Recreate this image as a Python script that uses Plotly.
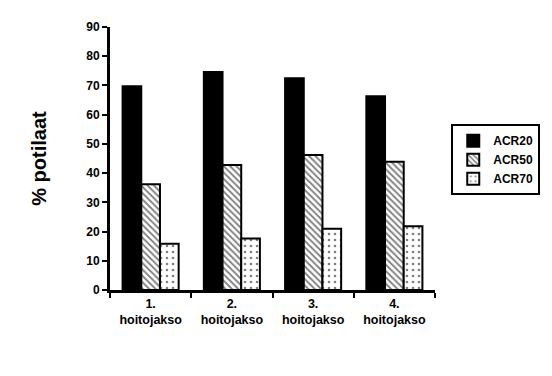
import plotly.graph_objects as go

categories = ["1.<br>hoitojakso", "2.<br>hoitojakso", "3.<br>hoitojakso", "4.<br>hoitojakso"]
acr20 = [69.7, 74.6, 72.5, 66.3]
acr50 = [36.2, 42.8, 46.2, 43.9]
acr70 = [15.8, 17.6, 21.0, 21.8]
y_ticks = [0, 10, 20, 30, 40, 50, 60, 70, 80, 90]

FONT = "Arial, Liberation Sans, sans-serif"

fig = go.Figure()
fig.add_bar(name="ACR20", x=categories, y=acr20,
            marker=dict(color="black", line=dict(color="black", width=2)))
fig.add_bar(name="ACR50", x=categories, y=acr50,
            marker=dict(color="white", line=dict(color="black", width=2),
                        pattern=dict(shape="\\", fgcolor="black", bgcolor="white",
                                     size=4.5, solidity=0.4)))
fig.add_bar(name="ACR70", x=categories, y=acr70,
            marker=dict(color="white", line=dict(color="black", width=2),
                        pattern=dict(shape=".", fgcolor="black", bgcolor="white",
                                     size=6, solidity=0.15)))

fig.update_layout(
    width=552, height=376,
    margin=dict(l=110, r=110, t=27, b=86),
    paper_bgcolor="white", plot_bgcolor="white",
    barmode="group", bargap=0.31, bargroupgap=0,
    font=dict(family=FONT, size=12, color="black"),
    showlegend=True,
    legend=dict(x=1.05, y=0.63, xanchor="left", yanchor="top",
                bordercolor="black", borderwidth=2,
                font=dict(family=FONT, size=12, color="black", weight="bold"),
                itemwidth=30, tracegroupgap=4),
    xaxis=dict(showline=True, linecolor="black", linewidth=3,
               ticks="outside", tickson="boundaries", ticklen=5, tickwidth=2,
               tickcolor="black", showgrid=False,
               tickfont=dict(family=FONT, size=12.5, color="black", weight="bold")),
    yaxis=dict(range=[0, 90], tickvals=y_ticks, showline=True, linecolor="black",
               linewidth=3, ticks="outside", ticklen=5, tickwidth=2, tickcolor="black",
               showgrid=False, zeroline=False,
               tickfont=dict(family=FONT, size=12, color="black", weight="bold"),
               title=dict(text="% potilaat", standoff=35,
                          font=dict(family=FONT, size=20, color="black", weight="bold"))),
)

fig.write_html("out.html")
